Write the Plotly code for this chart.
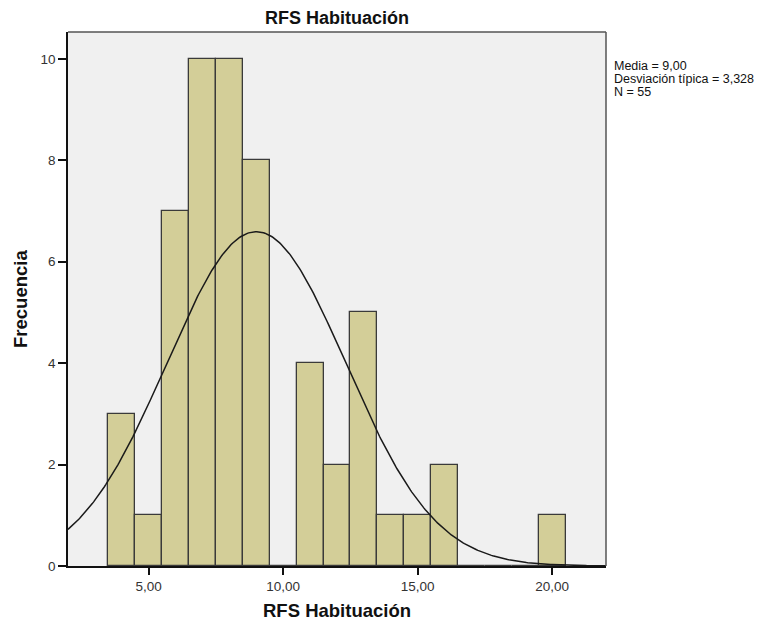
import numpy as np
import plotly.graph_objects as go

bin_centers = [4, 5, 6, 7, 8, 9, 10, 11, 12, 13, 14, 15, 16, 17, 18, 19, 20]
counts = [3, 1, 7, 10, 10, 8, 0, 4, 2, 5, 1, 1, 2, 0, 0, 0, 1]
mean_val = 9.00
sd_val = 3.328
n_val = 55
x_ticks = [5, 10, 15, 20]
x_tick_labels = ["5,00", "10,00", "15,00", "20,00"]
y_ticks = [0, 2, 4, 6, 8, 10]
stats_lines = [
    "Media = 9,00",
    "Desviación típica = 3,328",
    "N = 55",
]

xs = np.linspace(2, 22, 400)
ys = n_val * 1.0 / (sd_val * np.sqrt(2 * np.pi)) * np.exp(-0.5 * ((xs - mean_val) / sd_val) ** 2)

W, H = 774, 629
L, R, T, B = 60, 176, 24, 71

fig = go.Figure()
fig.add_trace(go.Bar(
    x=bin_centers, y=counts, width=1,
    marker=dict(color="#D3CE98", line=dict(color="#3a3a3a", width=1.3)),
    showlegend=False,
))
fig.add_trace(go.Scatter(
    x=xs, y=ys, mode="lines", line=dict(color="#1a1a1a", width=1.5),
    showlegend=False,
))

font_family = "Liberation Sans, Arial, sans-serif"
fig.update_layout(
    width=W, height=H,
    margin=dict(l=L, r=R, t=T, b=B, autoexpand=False),
    paper_bgcolor="white", plot_bgcolor="#F0F0F0",
    bargap=0,
    font=dict(family=font_family, color="#222"),
    xaxis=dict(range=[2, 22], tickvals=x_ticks, ticktext=x_tick_labels,
               showgrid=False, zeroline=False, showline=True, linecolor="#111", linewidth=1.5,
               ticks="outside", ticklen=7, tickwidth=1.5, tickcolor="#111",
               tickfont=dict(size=13.5, color="#333")),
    yaxis=dict(range=[0, 10.53], tickvals=y_ticks,
               showgrid=False, zeroline=False, showline=True, linecolor="#111", linewidth=1.5,
               ticks="outside", ticklen=8, tickwidth=1.5, tickcolor="#111",
               tickfont=dict(size=13.5, color="#333")),
)
# top and right frame
fig.add_shape(type="line", xref="paper", yref="paper", x0=0, x1=1, y0=1, y1=1,
              line=dict(color="#555", width=1.5))
fig.add_shape(type="line", xref="paper", yref="paper", x0=1, x1=1, y0=0, y1=1,
              line=dict(color="#555", width=1.5))

# chart title
fig.add_annotation(xref="paper", yref="paper", x=0.5, y=1, yshift=(T - 10),
                   xanchor="center", yanchor="middle", showarrow=False,
                   text="<b>RFS Habituación</b>", font=dict(size=18, color="#111", family=font_family))
# x axis title
fig.add_annotation(xref="paper", yref="paper", x=0.5, y=0, yshift=-(602 - (H - B)),
                   xanchor="center", yanchor="middle", showarrow=False,
                   text="<b>RFS Habituación</b>", font=dict(size=18.5, color="#111", family=font_family))
# y axis title
fig.add_annotation(xref="paper", yref="paper", x=0, y=0.5, xshift=-(L - 12),
                   xanchor="center", yanchor="middle", showarrow=False, textangle=-90,
                   text="<b>Frecuencia</b>", font=dict(size=18.5, color="#111", family=font_family))
# stats text
for i, line in enumerate(stats_lines):
    yc = 57.5 + 13 * i
    fig.add_annotation(xref="paper", yref="paper", x=1, y=1, xshift=6, yshift=-(yc - T),
                       xanchor="left", yanchor="middle", showarrow=False,
                       text=line, font=dict(size=12.5, color="#111", family=font_family))
fig.write_html("out.html")
